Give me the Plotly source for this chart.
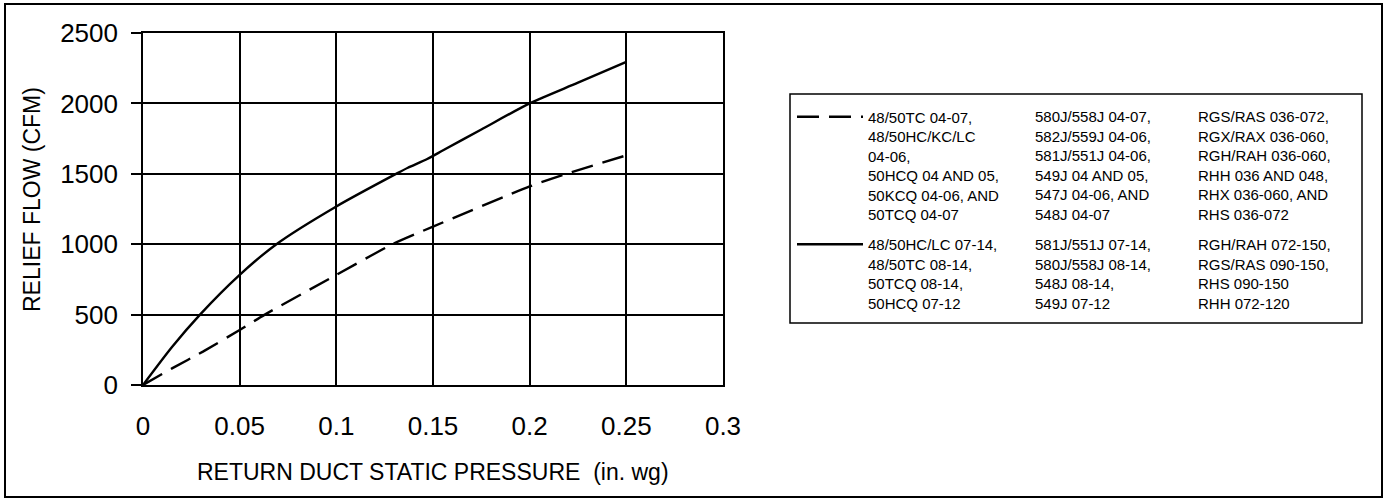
import plotly.graph_objects as go

# ---------------- data ----------------
pressure_dashed = [0, 0.015, 0.031, 0.05, 0.063, 0.1, 0.129, 0.15, 0.2, 0.219, 0.25]
flow_dashed = [0, 118, 237, 391, 500, 782, 1000, 1125, 1410, 1500, 1631]

pressure_solid = [0, 0.015, 0.0295, 0.05, 0.069, 0.1, 0.131, 0.137, 0.147, 0.155, 0.175, 0.2, 0.225, 0.25]
flow_solid = [0, 270, 500, 782, 1000, 1268, 1500, 1543, 1605, 1665, 1815, 2000, 2147, 2295]

x_ticks = [0, 0.05, 0.1, 0.15, 0.2, 0.25, 0.3]
x_tick_labels = ["0", "0.05", "0.1", "0.15", "0.2", "0.25", "0.3"]
y_ticks = [0, 500, 1000, 1500, 2000, 2500]
y_tick_labels = ["0", "500", "1000", "1500", "2000", "2500"]

x_title = "RETURN DUCT STATIC PRESSURE  (in. wg)"
y_title = "RELIEF FLOW (CFM)"

dashed_col1 = ["48/50TC 04-07,", "48/50HC/KC/LC", "04-06,", "50HCQ 04 AND 05,",
               "50KCQ 04-06, AND", "50TCQ 04-07"]
dashed_col2 = ["580J/558J 04-07,", "582J/559J 04-06,", "581J/551J 04-06,",
               "549J 04 AND 05,", "547J 04-06, AND", "548J 04-07"]
dashed_col3 = ["RGS/RAS 036-072,", "RGX/RAX 036-060,", "RGH/RAH 036-060,",
               "RHH 036 AND 048,", "RHX 036-060, AND", "RHS 036-072"]
solid_col1 = ["48/50HC/LC 07-14,", "48/50TC 08-14,", "50TCQ 08-14,", "50HCQ 07-12"]
solid_col2 = ["581J/551J 07-14,", "580J/558J 08-14,", "548J 08-14,", "549J 07-12"]
solid_col3 = ["RGH/RAH 072-150,", "RGS/RAS 090-150,", "RHS 090-150", "RHH 072-120"]

# ---------------- layout geometry (pixels) ----------------
W, H = 1387, 500
PL, PR, PT, PB = 143, 723, 33, 385   # plot area edges
FONT = "Liberation Sans, Arial, Helvetica, sans-serif"


def px_x(p):
    return (p - PL) / (PR - PL)


def px_y(p):
    return (PB - p) / (PB - PT)


fig = go.Figure()
fig.add_trace(go.Scatter(
    x=pressure_dashed, y=flow_dashed, mode="lines",
    name="<br>".join(dashed_col1), legendgroup="a",
    line=dict(color="black", width=2.4, dash="22px,10px", shape="spline", smoothing=0.6),
))
fig.add_trace(go.Scatter(
    x=pressure_solid, y=flow_solid, mode="lines",
    name="<br>".join(solid_col1), legendgroup="b",
    line=dict(color="black", width=2.4, shape="spline", smoothing=0.7),
))

LEG_FS = 15
annotations = [
    dict(text=x_title, x=0.5, y=px_y(472), xref="paper", yref="paper",
         xanchor="center", yanchor="middle", showarrow=False,
         font=dict(family=FONT, size=23, color="black")),
    dict(text=y_title, x=px_x(32), y=px_y(200), xref="paper", yref="paper",
         xanchor="center", yanchor="middle", showarrow=False, textangle=-90,
         font=dict(family=FONT, size=23, color="black")),
]
for col, xp, ytop in [(dashed_col2, 1033, 105.5), (dashed_col3, 1196, 105.5),
                      (solid_col2, 1033, 234), (solid_col3, 1196, 234)]:
    annotations.append(dict(
        text="<br>".join(col), x=px_x(xp), y=px_y(ytop), xref="paper", yref="paper",
        xanchor="left", yanchor="top", align="left", showarrow=False,
        font=dict(family=FONT, size=LEG_FS, color="black")))

shapes = [
    # legend frame
    dict(type="rect", xref="paper", yref="paper", x0=px_x(790), x1=px_x(1362),
         y0=px_y(323), y1=px_y(94), line=dict(color="black", width=1.5)),
    # outer figure frame
    dict(type="rect", xref="paper", yref="paper", x0=px_x(5), x1=px_x(1382),
         y0=px_y(497), y1=px_y(4), line=dict(color="black", width=2)),
]

fig.update_layout(
    width=W, height=H,
    margin=dict(l=PL, r=W - PR, t=PT, b=H - PB, pad=0),
    paper_bgcolor="white", plot_bgcolor="white",
    font=dict(family=FONT, color="black"),
    showlegend=True,
    legend=dict(x=px_x(792), y=px_y(100.5), xanchor="left", yanchor="top",
                bgcolor="rgba(0,0,0,0)", borderwidth=0, valign="top",
                itemwidth=66, tracegroupgap=7.5,
                font=dict(family=FONT, size=LEG_FS, color="black")),
    annotations=annotations,
    shapes=shapes,
)
fig.update_xaxes(
    range=[0, 0.3], tickvals=x_ticks, ticktext=x_tick_labels,
    showgrid=True, gridcolor="black", gridwidth=1.6,
    showline=True, linecolor="black", linewidth=1.6, mirror=True,
    zeroline=False, ticks="", ticklabelstandoff=17,
    tickfont=dict(family=FONT, size=26, color="black"),
)
fig.update_yaxes(
    range=[0, 2500], tickvals=y_ticks, ticktext=y_tick_labels,
    showgrid=True, gridcolor="black", gridwidth=1.6,
    showline=True, linecolor="black", linewidth=1.6, mirror=True,
    zeroline=False, ticks="outside", ticklen=10, tickcolor="black", tickwidth=1.5,
    ticklabelstandoff=8,
    tickfont=dict(family=FONT, size=26, color="black"),
)

fig.write_html("out.html", config={"displayModeBar": False},
               post_script="document.body.style.margin='0px';")
